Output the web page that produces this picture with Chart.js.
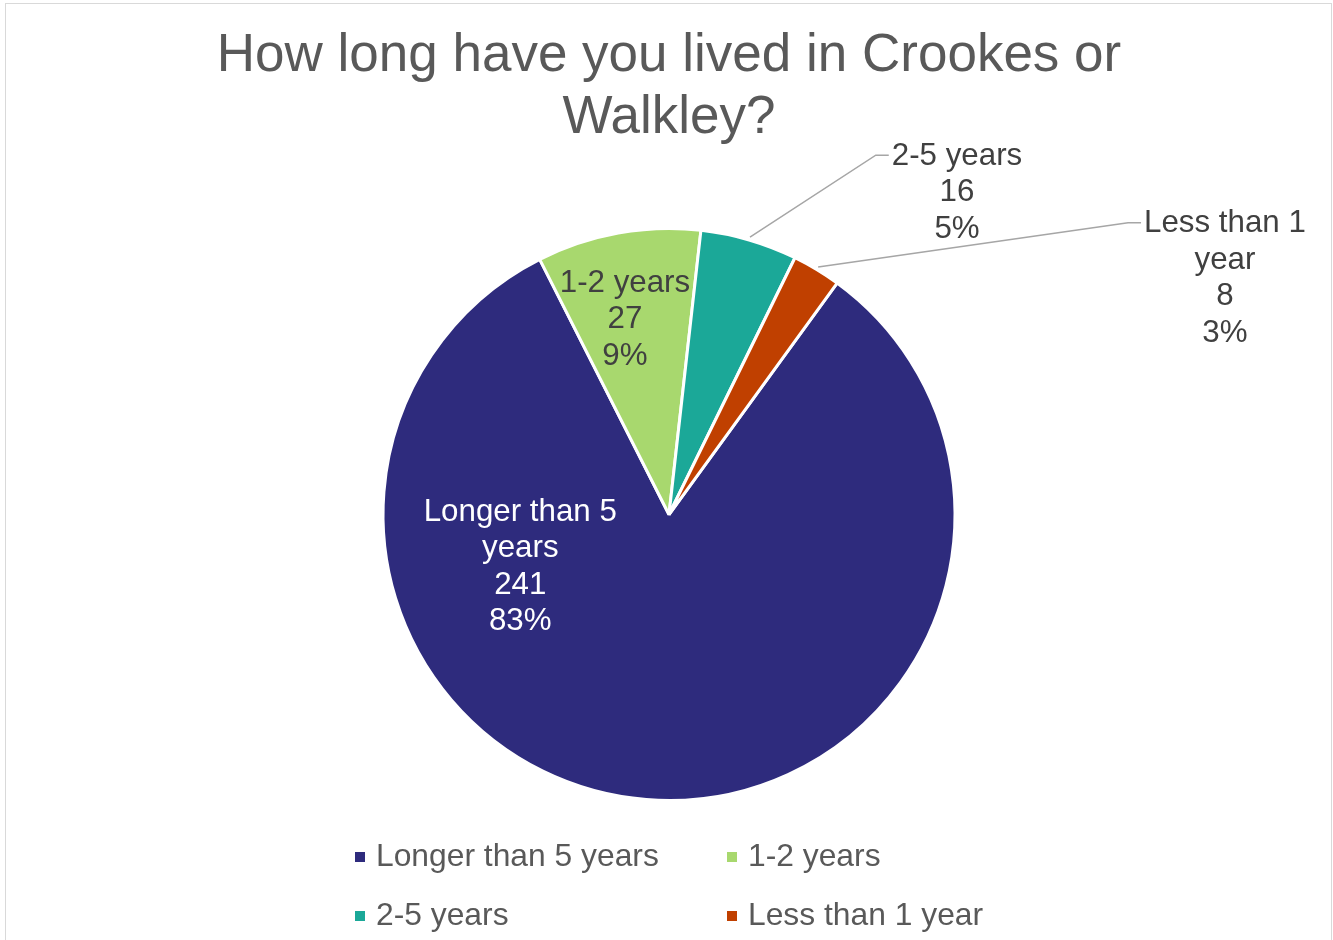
<!DOCTYPE html>
<html>
<head>
<meta charset="utf-8">
<script src="https://cdn.jsdelivr.net/npm/chart.js@4"></script>
<style>
    body { margin: 0; background: #fff; font-family: 'Liberation Sans', Arial, sans-serif; }
    #wrap { position: relative; width: 1333px; height: 940px; overflow: hidden; }
    #frame { position: absolute; left: 5px; top: 3px; width: 1325px; height: 1000px; border: 1px solid #d9d9d9; }
    #pieChart { position: absolute; left: 0; top: 0; }
    #legend { position: absolute; left: 355px; top: 826px; display: grid; grid-template-columns: 372px auto; grid-auto-rows: 59px; }
    .legend-item { display: flex; align-items: center; font-size: 31.8px; color: #595959; white-space: nowrap; }
    .legend-box { width: 10px; height: 10px; margin-right: 11px; margin-top: 2px; }
</style>
</head>
<body>
<div id="wrap">
    <div id="frame"></div>
    <canvas id="pieChart" width="1333" height="940"></canvas>
    <div id="legend"></div>
</div>
<script>
const chartTitle = ['How long have you lived in Crookes or', 'Walkley?'];
const categories = ['Longer than 5 years', '1-2 years', '2-5 years', 'Less than 1 year'];
const counts = [241, 27, 16, 8];
const sliceColors = ['#2E2B7D', '#A8D86E', '#1BA898', '#C04000'];

const fontFamily = "'Liberation Sans', Arial, sans-serif";

// where each data label sits, as offsets from the pie centre in radius units
const labelPlacement = [
    { dx: -0.52, dy: 0.18, color: '#ffffff', leader: false },
    { dx: -0.154, dy: -0.685, color: '#404040', leader: false },
    { dx: 1.007, dy: -1.129, color: '#404040', leader: true },
    { dx: 1.944, dy: -0.829, color: '#404040', leader: true }
];

function wrapText(ctx, text, maxWidth) {
    const words = text.split(' ');
    const lines = [];
    let line = '';
    words.forEach(word => {
        const test = line ? line + ' ' + word : word;
        if (ctx.measureText(test).width > maxWidth && line) {
            lines.push(line);
            line = word;
        } else {
            line = test;
        }
    });
    if (line) lines.push(line);
    return lines;
}

const pieLabels = {
    id: 'pieLabels',
    afterDatasetsDraw(chart) {
        const ctx = chart.ctx;
        const meta = chart.getDatasetMeta(0);
        const data = chart.data.datasets[0].data;
        const total = data.reduce((a, b) => a + b, 0);
        const lineHeight = 36.5;

        ctx.save();
        ctx.font = '31.3px ' + fontFamily;
        ctx.textBaseline = 'middle';
        ctx.textAlign = 'center';

        meta.data.forEach((arc, i) => {
            const place = labelPlacement[i];
            const r = arc.outerRadius;
            const cx = arc.x + place.dx * r;
            const cy = arc.y + place.dy * r;

            const lines = wrapText(ctx, chart.data.labels[i], 200);
            lines.push(String(data[i]));
            lines.push(Math.round(data[i] / total * 100) + '%');

            const top = cy - (lines.length - 1) * lineHeight / 2;

            if (place.leader) {
                const mid = (arc.startAngle + arc.endAngle) / 2;
                const sx = arc.x + Math.cos(mid) * (r + 3);
                const sy = arc.y + Math.sin(mid) * (r + 3);
                const firstWidth = ctx.measureText(lines[0]).width;
                const left = cx - firstWidth / 2 - 3;
                ctx.beginPath();
                ctx.strokeStyle = '#a6a6a6';
                ctx.lineWidth = 1.5;
                ctx.moveTo(sx, sy);
                ctx.lineTo(left - 13, top);
                ctx.lineTo(left, top);
                ctx.stroke();
            }

            ctx.fillStyle = place.color;
            lines.forEach((line, j) => {
                ctx.fillText(line, cx, top + j * lineHeight + 1);
            });
        });
        ctx.restore();
    }
};

const pieChart = new Chart(document.getElementById('pieChart'), {
    type: 'pie',
    data: {
        labels: categories,
        datasets: [{
            data: counts,
            backgroundColor: sliceColors,
            borderColor: '#ffffff',
            borderWidth: 3
        }]
    },
    options: {
        responsive: false,
        animation: false,
        rotation: 36,
        layout: {
            padding: { left: 5, right: 0, top: 0, bottom: 138 }
        },
        plugins: {
            legend: { display: false },
            tooltip: { enabled: false },
            title: {
                display: true,
                text: chartTitle,
                color: '#595959',
                font: { family: fontFamily, size: 53, weight: 'normal', lineHeight: 1.17 },
                padding: { top: 25, bottom: 78 }
            }
        }
    },
    plugins: [pieLabels]
});

// two-column legend under the pie
const legendEl = document.getElementById('legend');
pieChart.data.labels.forEach((label, i) => {
    const item = document.createElement('div');
    item.className = 'legend-item';
    item.innerHTML = `<span class="legend-box" style="background:${sliceColors[i]}"></span><span>${label}</span>`;
    legendEl.appendChild(item);
});
</script>
</body>
</html>
